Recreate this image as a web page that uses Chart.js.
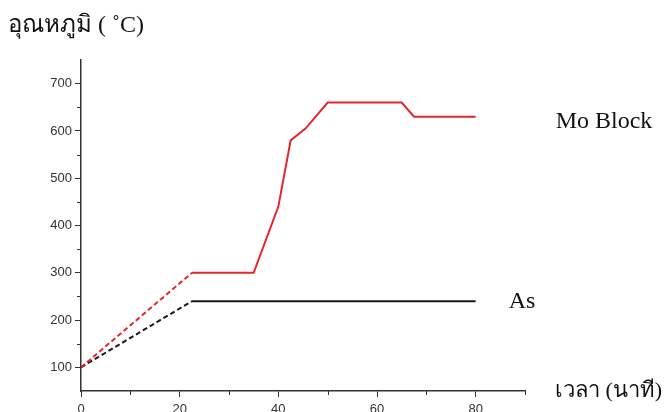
<!DOCTYPE html>
<html>
<head>
<meta charset="utf-8">
<script src="https://cdn.jsdelivr.net/npm/chart.js@4/dist/chart.umd.min.js"></script>
<style>
  html, body { margin: 0; padding: 0; background: #fff; }
  #wrap { position: relative; width: 668px; height: 412px; }
</style>
</head>
<body>
<div id="wrap"><canvas id="tempChart" width="668" height="412"></canvas></div>
<script>
// Temperature profile (minutes vs degrees C)
const timeMo = [0, 22.5, 35, 40, 42.5, 45.5, 50, 65, 67.5, 80];
const tempMo = [100, 300, 300, 440, 580, 605, 660, 660, 630, 630];
const timeAs = [0, 22.5, 80];
const tempAs = [100, 240, 240];

const xTickLabels = [0, 20, 40, 60, 80];
const yTickLabels = [100, 200, 300, 400, 500, 600, 700];

const seriesNames = ['Mo Block', 'As'];
const yTitle = 'อุณหภูมิ ( \u02DAC)';
const xTitle = 'เวลา (นาที)';

const axisColor = '#333';

function toPoints(xs, ys) {
    return xs.map((x, i) => ({ x: x, y: ys[i] }));
}

// first segment of each line is dashed (ramp-up)
const dashFirst = {
    borderDash: ctx => ctx.p0DataIndex === 0 ? [5, 3] : undefined
};

// major ticks come from Chart.js, minor ones are hidden there and drawn shorter here
const majorOnly = labels => ctx => labels.includes(ctx.tick && ctx.tick.value) ? axisColor : 'rgba(0,0,0,0)';

const minorTickPlugin = {
    id: 'minorTicks',
    afterDraw(chart) {
        const ctx = chart.ctx;
        const xs = chart.scales.x;
        const ys = chart.scales.y;
        ctx.save();
        ctx.strokeStyle = axisColor;
        ctx.lineWidth = 1;
        ys.ticks.forEach(t => {
            if (yTickLabels.includes(t.value) || t.value === ys.max || t.value === ys.min) return;
            const py = Math.round(ys.getPixelForValue(t.value)) + 0.5;
            ctx.beginPath();
            ctx.moveTo(xs.left - 4, py);
            ctx.lineTo(xs.left, py);
            ctx.stroke();
        });
        xs.ticks.forEach(t => {
            if (xTickLabels.includes(t.value) || t.value === xs.min) return;
            const px = Math.round(xs.getPixelForValue(t.value)) + 0.5;
            ctx.beginPath();
            ctx.moveTo(px, ys.bottom - 1);
            ctx.lineTo(px, ys.bottom + 4);
            ctx.stroke();
        });
        ctx.restore();
    }
};

// text labels: series names next to line ends + axis titles
const labelPlugin = {
    id: 'labels',
    afterDraw(chart) {
        const ctx = chart.ctx;
        const xs = chart.scales.x;
        const ys = chart.scales.y;
        ctx.save();
        ctx.fillStyle = '#111';
        ctx.textBaseline = 'alphabetic';
        ctx.textAlign = 'left';
        ctx.font = '24px "Liberation Serif", "Times New Roman", serif';
        ctx.fillText(seriesNames[0], xs.getPixelForValue(80) + 80, ys.getPixelForValue(tempMo[tempMo.length - 1]) + 11);
        ctx.fillText(seriesNames[1], xs.getPixelForValue(80) + 33, ys.getPixelForValue(tempAs[tempAs.length - 1]) + 7);
        ctx.fillText(yTitle, 8, 32);
        ctx.font = '22px "Liberation Serif", "Times New Roman", serif';
        ctx.fillText(xTitle, xs.right + 30, ys.bottom + 6);
        ctx.restore();
    }
};

const canvas = document.getElementById('tempChart');
const chart = new Chart(canvas.getContext('2d'), {
    type: 'line',
    data: {
        datasets: [{
            label: seriesNames[0],
            data: toPoints(timeMo, tempMo),
            borderColor: '#e3262b',
            borderWidth: 2,
            pointRadius: 0,
            tension: 0,
            segment: dashFirst
        }, {
            label: seriesNames[1],
            data: toPoints(timeAs, tempAs),
            borderColor: '#1a1a1a',
            borderWidth: 2,
            pointRadius: 0,
            tension: 0,
            segment: dashFirst
        }]
    },
    options: {
        responsive: false,
        animation: false,
        layout: {
            padding: { top: 60, right: 143, left: 0, bottom: 0 }
        },
        plugins: {
            legend: { display: false },
            tooltip: { enabled: false }
        },
        scales: {
            x: {
                type: 'linear',
                min: 0,
                max: 90,
                afterFit: s => { s.height = 21; },
                border: { display: true, color: axisColor, width: 1.5 },
                grid: {
                    drawOnChartArea: false,
                    drawTicks: true,
                    tickLength: 6,
                    color: majorOnly(xTickLabels)
                },
                ticks: {
                    stepSize: 10,
                    color: '#333',
                    padding: 5,
                    maxRotation: 0,
                    font: { family: 'Arial, "Liberation Sans", sans-serif', size: 13 },
                    callback: v => xTickLabels.includes(v) ? String(v) : ''
                }
            },
            y: {
                type: 'linear',
                min: 50,
                max: 750,
                afterFit: s => { s.width = 81; },
                border: { display: true, color: axisColor, width: 1.5 },
                grid: {
                    drawOnChartArea: false,
                    drawTicks: true,
                    tickLength: 6,
                    color: majorOnly(yTickLabels)
                },
                ticks: {
                    stepSize: 50,
                    color: '#333',
                    padding: 3,
                    font: { family: 'Arial, "Liberation Sans", sans-serif', size: 13 },
                    callback: v => yTickLabels.includes(v) ? String(v) : ''
                }
            }
        }
    },
    plugins: [minorTickPlugin, labelPlugin]
});
</script>
</body>
</html>
